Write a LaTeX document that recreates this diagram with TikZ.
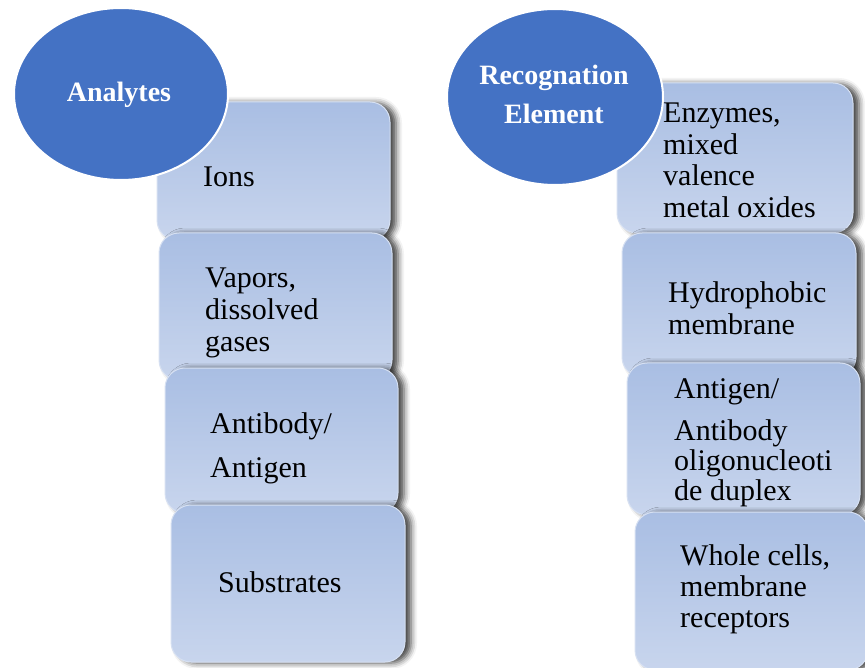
\documentclass[tikz,border=0pt]{standalone}
\usepackage{fontspec}
\setmainfont{Liberation Serif}
\usetikzlibrary{shapes.geometric,shadows.blur}
\definecolor{ellblue}{RGB}{68,114,196}
\definecolor{boxtop}{RGB}{169,190,227}
\definecolor{boxbot}{RGB}{200,213,237}
\definecolor{boxline}{RGB}{214,224,242}
\begin{document}
\begin{tikzpicture}[x=1pt,y=-1pt,
  cardbox/.style={rectangle, rounded corners=20pt, top color=boxtop, bottom color=boxbot,
    draw=boxline, line width=1pt,
    blur shadow={shadow xshift=6pt, shadow yshift=-1pt, shadow blur radius=6pt, shadow opacity=75},
    inner sep=0pt},
  headell/.style={ellipse, fill=ellblue, draw=white, line width=2pt, inner sep=0pt},
  headtxt/.style={anchor=base, inner sep=0pt, text=white, font=\fontsize{28}{39}\selectfont\bfseries},
  bodytxt/.style={anchor=base west, inner sep=0pt, font=\fontsize{30}{32}\selectfont}]
\useasboundingbox (0,0) rectangle (865,668);
\clip (0,0) rectangle (865,668);
% left column
\node[cardbox, minimum width=233pt, minimum height=138pt] (l1) at (273.5,171) {};
\node[cardbox, minimum width=233pt, minimum height=147pt] (l2) at (275.5,306.5) {};
\node[cardbox, minimum width=233pt, minimum height=145pt] (l3) at (281.5,440.5) {};
\node[cardbox, minimum width=234pt, minimum height=157pt] (l4) at (288,583.5) {};
% right column
\node[cardbox, minimum width=236pt, minimum height=150pt] (r1) at (735,158) {};
\node[cardbox, minimum width=234pt, minimum height=144pt] (r2) at (739,305) {};
\node[cardbox, minimum width=233pt, minimum height=152pt] (r3) at (743.5,439) {};
\node[cardbox, minimum width=233pt, minimum height=158pt] (r4) at (751.5,591) {};
% ellipses
\node[headell, minimum width=214pt, minimum height=172pt] (ea) at (121,94) {};
\node[headell, minimum width=216pt, minimum height=176pt] (er) at (555,97) {};
\node[headtxt] (ta) at (119,102) {Analytes};
\node[headtxt] (tr) at (554,85) {\begin{tabular}[t]{@{}c@{}}Recognation\\Element\end{tabular}};
% texts left
\node[bodytxt] (t1) at (203,187) {Ions};
\node[bodytxt] (t2) at (205,288) {\begin{tabular}[t]{@{}l@{}}Vapors,\\dissolved\\gases\end{tabular}};
\node[bodytxt] (t3) at (210,433) {\begin{tabular}[t]{@{}l@{}}Antibody/\\[12pt]Antigen\end{tabular}};
\node[bodytxt] (t4) at (218,592) {Substrates};
% texts right
\node[bodytxt, font=\fontsize{30}{31.5}\selectfont] (u1) at (663,123) {\begin{tabular}[t]{@{}l@{}}Enzymes,\\mixed\\valence\\metal oxides\end{tabular}};
\node[bodytxt] (u2) at (668,303) {\begin{tabular}[t]{@{}l@{}}Hydrophobic\\membrane\end{tabular}};
\node[bodytxt, font=\fontsize{30}{30}\selectfont] (u3) at (674,398) {\begin{tabular}[t]{@{}l@{}}Antigen/\\[13pt]Antibody\\oligonucleoti\\de duplex\end{tabular}};
\node[bodytxt, font=\fontsize{30}{31}\selectfont] (u4) at (680,565) {\begin{tabular}[t]{@{}l@{}}Whole cells,\\membrane\\receptors\end{tabular}};
\end{tikzpicture}
\end{document}
